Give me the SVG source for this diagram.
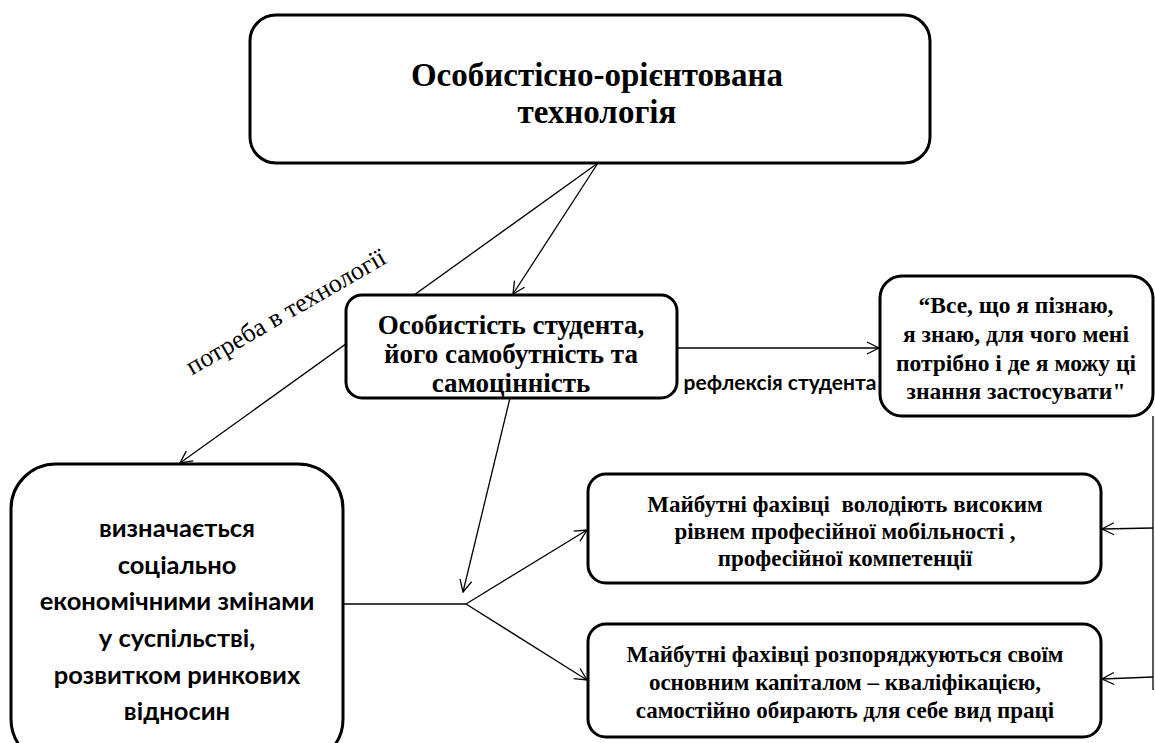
<svg xmlns="http://www.w3.org/2000/svg" width="1155" height="743" viewBox="0 0 1155 743">
<defs>
<style>
.box{fill:#fff;stroke:#000;stroke-width:3}
.ln{fill:none;stroke:#000;stroke-width:1.3}
.arr{marker-end:url(#ah)}
.tb{font-family:"Liberation Serif","Times New Roman",serif;font-weight:bold;text-anchor:middle;fill:#000}
.sb{font-family:Lato,"Liberation Sans",sans-serif;font-weight:bold;text-anchor:middle;fill:#000}
</style>
<marker id="ah" viewBox="0 0 14 14" refX="13" refY="7" markerWidth="14" markerHeight="14" markerUnits="userSpaceOnUse" orient="auto">
<path d="M1,1 L13,7 L1,13" fill="none" stroke="#000" stroke-width="1.3"/>
</marker>
</defs>
<rect width="1155" height="743" fill="#fff"/>
<g id="connectors">
<line class="ln arr" x1="598" y1="163" x2="180" y2="463"/>
<line class="ln arr" x1="598" y1="163" x2="513" y2="294"/>
<line class="ln arr" x1="510" y1="398" x2="463" y2="592"/>
<line class="ln" x1="343" y1="604" x2="466" y2="604"/>
<line class="ln arr" x1="466" y1="604" x2="587" y2="530"/>
<line class="ln arr" x1="466" y1="604" x2="587" y2="680"/>
<line class="ln arr" x1="677" y1="348" x2="879" y2="348"/>
<line class="ln" x1="1153" y1="416" x2="1153" y2="690"/>
<line class="ln arr" x1="1153" y1="528" x2="1102" y2="529"/>
<line class="ln arr" x1="1153" y1="677" x2="1102" y2="679"/>
</g>
<g id="n-top">
<rect class="box" x="250" y="15" width="680" height="148" rx="26"/>
<text class="tb" x="597" y="86" font-size="33">Особистісно-орієнтована</text>
<text class="tb" x="597" y="123" font-size="33">технологія</text>
</g>
<g id="n-person">
<rect class="box" x="346" y="295" width="331" height="103" rx="16"/>
<text class="tb" x="511" y="334" font-size="27">Особистість студента,</text>
<text class="tb" x="511" y="363" font-size="27">його самобутність та</text>
<text class="tb" x="511" y="392" font-size="27">самоцінність</text>
</g>
<g id="n-quote">
<rect class="box" x="880" y="276" width="273" height="140" rx="22"/>
<text class="tb" x="1016" y="313" font-size="23.5">“Все, що я пізнаю,</text>
<text class="tb" x="1016" y="342" font-size="23.5">я знаю, для чого мені</text>
<text class="tb" x="1016" y="371" font-size="23.5">потрібно і де я можу ці</text>
<text class="tb" x="1016" y="399" font-size="23.5">знання застосувати"</text>
</g>
<g id="n-left">
<rect class="box" x="11" y="464" width="332" height="300" rx="45"/>
<text class="sb" x="177" y="537" font-size="25.5">визначається</text>
<text class="sb" x="177" y="574" font-size="25.5">соціально</text>
<text class="sb" x="177" y="610" font-size="25.5">економічними змінами</text>
<text class="sb" x="177" y="647" font-size="25.5">у суспільстві,</text>
<text class="sb" x="177" y="684" font-size="25.5">розвитком ринкових</text>
<text class="sb" x="177" y="720" font-size="25.5">відносин</text>
</g>
<g id="n-mob">
<rect class="box" x="588" y="474" width="513" height="109" rx="18"/>
<text class="tb" x="845" y="512" font-size="23" xml:space="preserve">Майбутні фахівці  володіють високим</text>
<text class="tb" x="845" y="539" font-size="23">рівнем професійної мобільності ,</text>
<text class="tb" x="845" y="566" font-size="23">професійної компетенції</text>
</g>
<g id="n-cap">
<rect class="box" x="588" y="624" width="513" height="113" rx="18"/>
<text class="tb" x="845" y="662" font-size="23">Майбутні фахівці розпоряджуються своїм</text>
<text class="tb" x="845" y="690" font-size="23">основним капіталом – кваліфікацією,</text>
<text class="tb" x="845" y="718" font-size="23">самостійно обирають для себе вид праці</text>
</g>
<g id="labels">
<text class="sb" x="780" y="390" font-size="21">рефлексія студента</text>
<text x="290" y="319" font-family="'Liberation Serif','Times New Roman',serif" font-size="26" text-anchor="middle" transform="rotate(-30 290 319)">потреба в технології</text>
</g>
</svg>
